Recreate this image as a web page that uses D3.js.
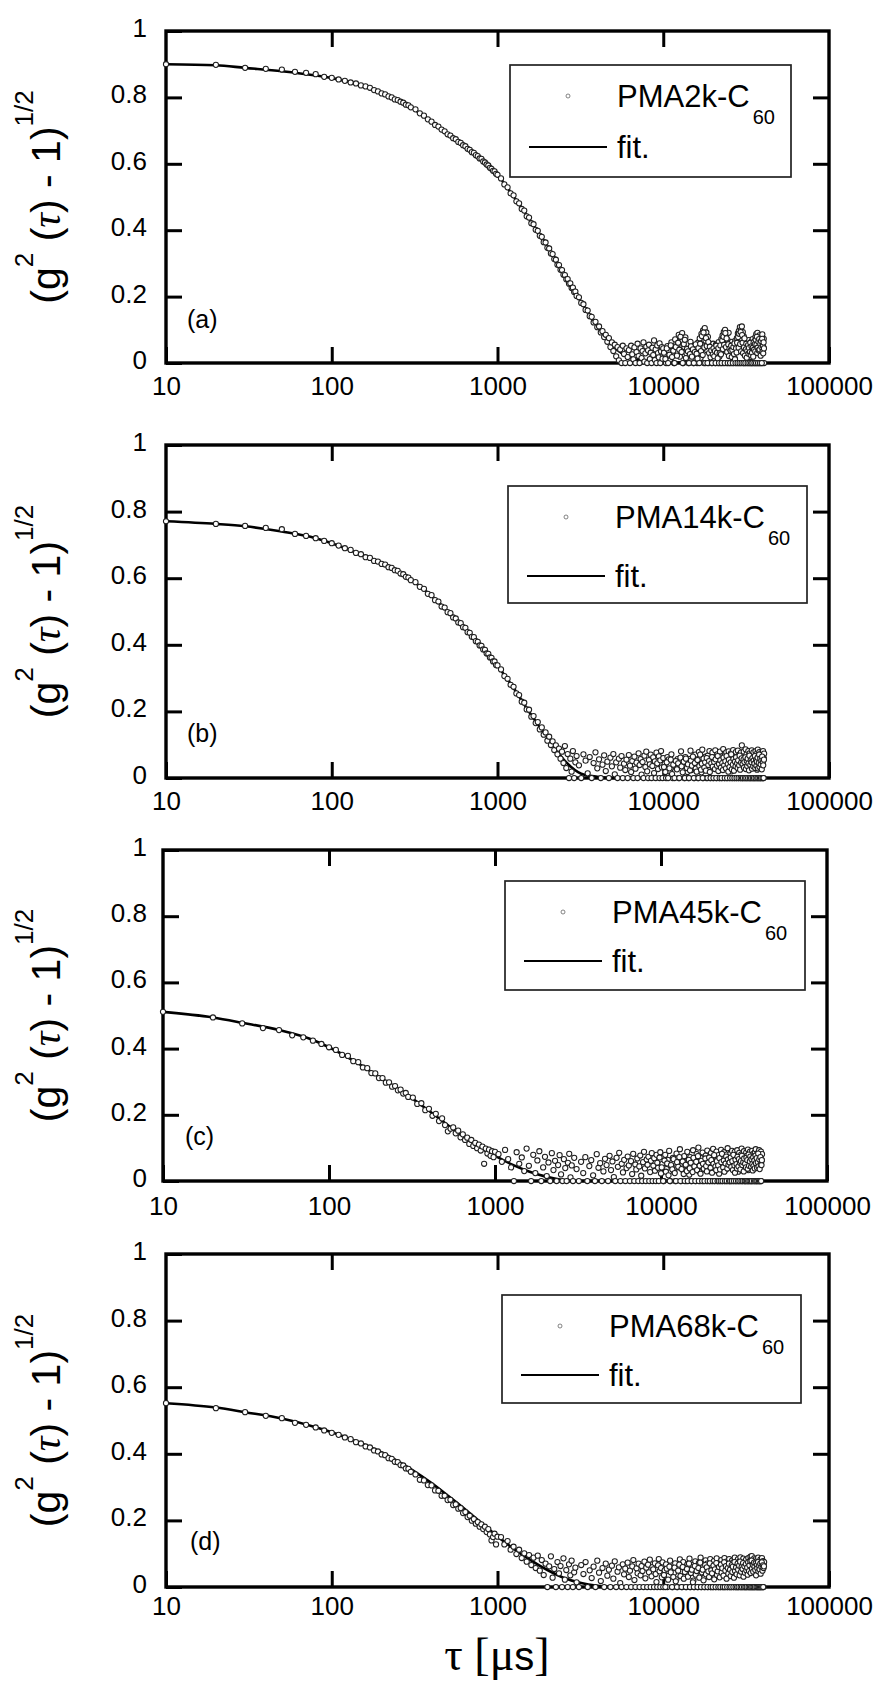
<!DOCTYPE html>
<html>
<head>
<meta charset="utf-8">
<script src="https://cdn.jsdelivr.net/npm/d3@7/dist/d3.min.js"></script>
<style>
body { margin: 0; background: #fff; }
svg { display: block; }
</style>
</head>
<body>
<div id="vue"></div>
<script>
// lag times of the correlator channels (µs)
var lagTimes = [10,20,30,40,50,60,70,80,90,100,
  110,120,130,140,150,160,170,180,190,200,210,220,230,240,250,260,270,280,290,300,
  320,340,360,380,400,420,440,460,480,500,520,540,560,580,600,620,640,660,680,700,
  720,740,760,780,800,820,840,860,880,900,920,940,960,980,1000,
  1050,1100,1150,1200,1250,1300,1350,1400,1450,1500,1550,1600,1650,1700,1750,1800,1850,1900,1950,2000,
  2050,2100,2150,2200,2250,2300,2350,2400,2450,2500,2550,2600,2650,2700,2750,2800,2850,2900,2950,3000,
  3100,3200,3300,3400,3500,3600,3700,3800,3900,4000,
  4100,4200,4300,4400,4500,4600,4700,4800,4900,5000,
  5100,5200,5300,5400,5500,5600,5700,5800,5900,6000,
  6100,6200,6300,6400,6500,6600,6700,6800,6900,7000,
  7100,7200,7300,7400,7500,7600,7700,7800,7900,8000,
  8100,8200,8300,8400,8500,8600,8700,8800,8900,9000,
  9100,9200,9300,9400,9500,9600,9700,9800,9900,10000,
  10200,10400,10600,10800,11000,11200,11400,11600,11800,12000,
  12200,12400,12600,12800,13000,13200,13400,13600,13800,14000,
  14200,14400,14600,14800,15000,15200,15400,15600,15800,16000,
  16200,16400,16600,16800,17000,17200,17400,17600,17800,18000,
  18200,18400,18600,18800,19000,19200,19400,19600,19800,20000,
  20200,20400,20600,20800,21000,21200,21400,21600,21800,22000,
  22200,22400,22600,22800,23000,23200,23400,23600,23800,24000,
  24200,24400,24600,24800,25000,25200,25400,25600,25800,26000,
  26200,26400,26600,26800,27000,27200,27400,27600,27800,28000,
  28200,28400,28600,28800,29000,29200,29400,29600,29800,30000,
  30200,30400,30600,30800,31000,31200,31400,31600,31800,32000,
  32200,32400,32600,32800,33000,33200,33400,33600,33800,34000,
  34200,34400,34600,34800,35000,35200,35400,35600,35800,36000,
  36200,36400,36600,36800,37000,37200,37400,37600,37800,38000,
  38200,38400,38600,38800,39000,39200,39400,39600,39800,40000,
  40200,40400,40600];

// the in-between channels of the long-lag tail (µs)
var lagTimes2 = [10100,10300,10500,10700,10900,11100,11300,11500,11700,11900,
  12100,12300,12500,12700,12900,13100,13300,13500,13700,13900,
  14100,14300,14500,14700,14900,15100,15300,15500,15700,15900,
  16100,16300,16500,16700,16900,17100,17300,17500,17700,17900,
  18100,18300,18500,18700,18900,19100,19300,19500,19700,19900,
  20100,20300,20500,20700,20900,21100,21300,21500,21700,21900,
  22100,22300,22500,22700,22900,23100,23300,23500,23700,23900,
  24100,24300,24500,24700,24900,25100,25300,25500,25700,25900,
  26100,26300,26500,26700,26900,27100,27300,27500,27700,27900,
  28100,28300,28500,28700,28900,29100,29300,29500,29700,29900,
  30100,30300,30500,30700,30900,31100,31300,31500,31700,31900,
  32100,32300,32500,32700,32900,33100,33300,33500,33700,33900,
  34100,34300,34500,34700,34900,35100,35300,35500,35700,35900,
  36100,36300,36500,36700,36900,37100,37300,37500,37700,37900,
  38100,38300,38500,38700,38900,39100,39300,39500,39700,39900,
  40100,40300,40500];

// (g2(t)-1)^1/2 x 1000, one value per lag time
var gA = [900,898,889,886,884,877,874,870,862,859,
  854,850,845,842,836,833,829,822,818,812,809,803,800,794,792,787,784,778,776,770,
  764,752,745,734,727,717,712,703,698,689,685,677,674,666,663,656,653,645,642,635,
  633,626,623,616,615,607,604,598,595,588,585,579,577,570,567,
  556,538,529,511,505,487,481,464,459,442,438,421,418,401,398,383,380,364,363,347,
  345,330,328,313,311,296,295,281,280,266,265,252,253,239,240,226,227,214,215,202,
  198,181,177,160,158,141,139,122,124,108,
  110,92,96,78,85,64,75,48,62,36,
  55,20,48,8,41,0,52,27,0,44,
  18,39,0,52,26,11,47,0,33,58,
  21,0,44,15,36,62,4,29,49,0,
  38,55,12,31,0,46,24,68,9,41,
  0,53,30,17,59,0,35,48,13,44,
  27,0,51,36,8,62,40,0,71,33,
  54,85,19,66,90,0,48,77,29,58,
  0,43,64,12,37,0,52,24,46,0,
  61,31,74,15,88,53,98,0,105,67,
  92,38,79,0,57,26,45,0,34,58,
  9,41,0,55,28,47,0,63,19,39,
  0,72,50,83,0,94,61,100,36,87,
  0,70,44,91,0,58,31,49,0,64,
  22,42,0,55,14,67,38,0,75,52,
  89,0,97,64,108,0,99,71,110,43,
  93,0,80,56,0,68,33,51,0,62,
  25,46,0,69,37,58,0,49,18,64,
  0,41,72,27,0,55,34,66,0,79,
  48,87,0,62,91,36,0,74,52,83,
  0,68,29,77,0,59,40,86,0,65,
  47,73,0];
var gA2 = [31,12,44,0,25,53,18,37,0,48,
  22,61,40,79,33,0,57,70,15,42,
  35,0,27,50,19,41,0,33,56,28,
  13,45,0,58,36,81,24,92,47,0,
  75,51,0,63,30,49,17,38,0,26,
  44,20,36,0,52,31,14,45,0,29,
  53,26,0,68,42,79,55,0,90,48,
  74,33,0,56,21,43,0,37,52,18,
  39,0,48,27,59,11,0,44,32,61,
  0,78,46,88,0,57,93,35,0,84,
  61,30,0,47,74,22,0,41,58,16,
  36,0,54,28,45,0,33,61,24,0,
  50,31,0,46,19,62,40,0,57,35,
  70,0,55,79,30,46,0,64,38,72,
  41,0,57,22,66,48,0,73,34,51,
  29,62,44];

var gB = [771,763,757,751,747,733,727,720,712,705,
  698,690,685,676,672,663,661,652,650,643,641,633,631,624,622,614,612,604,602,594,
  588,574,568,553,549,534,530,515,512,498,495,482,479,467,465,453,451,438,436,424,
  423,411,409,398,397,386,385,374,373,362,361,350,350,339,338,
  326,306,298,280,274,254,249,229,226,206,205,184,186,165,168,146,152,130,137,112,
  124,99,110,84,98,71,88,58,79,45,96,30,72,0,58,19,81,0,47,66,
  38,0,71,52,14,63,0,45,77,29,
  56,0,40,68,21,49,0,61,35,72,
  11,47,0,58,31,66,0,43,24,55,
  0,69,37,18,51,0,64,28,46,0,
  74,39,57,10,48,0,67,33,79,20,
  0,54,41,70,0,36,62,15,50,0,
  76,44,27,65,0,53,81,32,0,60,
  42,0,63,56,19,71,0,47,34,28,
  57,0,52,80,36,41,0,63,45,18,
  0,57,82,24,51,39,0,70,38,53,
  0,78,44,62,17,85,0,46,33,64,
  0,49,67,30,81,0,52,36,76,0,
  60,29,83,45,0,71,26,57,0,79,
  38,64,0,50,87,35,0,69,42,77,
  0,55,31,80,0,63,47,74,20,0,
  59,84,34,0,68,48,78,0,33,61,
  82,0,52,70,37,0,76,56,98,0,
  65,43,79,0,58,30,86,0,71,49,
  0,63,81,28,0,74,53,0,68,40,
  83,0,59,34,77,0,64,47,0,80,
  51,72,0,25,66,85,0,57,41,78,
  0,62,49,0,75,36,69,0,54,81,
  0,60,73];
var gB2 = [33,18,47,0,29,55,12,40,0,51,
  26,44,0,61,35,17,49,0,58,30,
  41,0,23,52,37,64,0,45,28,19,
  54,0,36,70,25,43,0,58,31,47,
  22,60,0,39,51,18,0,44,63,34,
  0,48,27,56,0,37,66,21,42,0,
  53,31,0,45,24,61,38,0,50,29,
  66,0,42,19,55,33,0,47,71,26,
  0,40,57,22,0,49,35,62,0,44,
  30,53,0,38,67,25,0,46,59,0,
  42,0,55,31,48,0,62,27,0,51,
  36,58,0,44,23,67,0,39,53,0,
  47,28,60,0,35,52,0,43,66,30,
  0,54,37,49,0,61,29,0,45,70,
  33,0,58,41,0,52,26,64,0,47,
  38,0,55];

var gC = [511,494,476,462,456,440,434,424,414,404,
  396,381,378,362,359,343,341,326,325,311,311,297,298,285,287,274,276,264,266,254,
  252,233,235,214,218,197,203,181,189,169,150,158,162,144,152,132,141,124,131,112,
  124,106,115,99,110,92,104,52,98,83,95,76,90,72,88,
  81,58,94,66,41,0,87,52,71,30,98,46,0,79,24,62,90,0,41,73,
  15,56,0,84,33,61,0,48,78,20,0,66,39,0,55,82,11,47,0,70,
  36,0,58,24,72,0,45,63,17,0,
  81,40,54,0,29,67,48,0,76,33,
  59,12,0,70,43,85,0,52,26,64,
  0,39,74,47,0,60,21,82,0,50,
  35,68,0,44,77,16,0,57,88,38,
  0,65,49,73,0,27,61,84,0,46,
  69,31,0,79,55,40,0,71,87,23,
  52,0,79,36,64,91,0,45,70,27,
  0,83,58,41,96,0,67,32,75,50,
  0,88,61,19,72,0,47,93,38,66,
  0,81,55,101,29,0,69,44,86,0,
  60,35,77,0,92,53,68,0,40,84,
  0,63,97,31,0,74,49,89,0,57,
  78,22,0,66,94,43,0,71,56,87,
  0,61,35,80,0,99,52,68,0,45,
  83,0,64,91,37,0,73,58,88,0,
  50,76,0,93,62,28,0,85,69,47,
  0,80,98,39,0,67,54,90,0,72,
  44,0,86,61,77,0,95,33,0,70,
  57,89,0,46,74,0,91,63,0,82,
  38,69,0,87,52,96,0,75,60,0,
  84,43,70,0,93,58,0,78,66,89,
  0,62,81];
var gC2 = [41,0,62,28,53,17,0,48,35,66,
  24,0,57,43,72,0,36,59,21,0,
  49,30,0,64,38,55,0,27,70,44,
  0,58,33,75,0,46,22,61,0,52,
  37,0,68,45,29,0,56,71,0,40,
  63,25,0,52,78,0,44,33,60,0,
  47,0,69,35,0,57,82,0,41,62,
  28,0,53,74,0,38,65,49,0,56,
  0,71,42,0,60,33,79,0,47,25,
  64,0,51,38,73,0,44,66,0,55,
  35,60,0,76,48,0,57,29,68,0,
  52,0,41,70,0,63,37,0,80,46,
  0,59,74,0,43,66,0,51,32,71,
  45,0,62,38,0,77,54,0,69,40,
  0,57,83,44,0,65,36,0,72,50,
  0,48,63];

var gD = [552,537,525,514,507,493,487,479,470,463,
  457,449,444,435,431,422,419,410,407,398,396,387,385,376,375,366,365,356,355,346,
  338,322,320,306,305,290,289,274,274,261,262,246,248,235,237,222,225,210,214,199,
  204,190,195,181,188,174,181,165,174,158,140,150,160,128,151,
  150,128,138,112,121,99,112,87,101,76,96,66,88,57,94,49,81,36,70,0,
  62,92,28,54,0,75,41,63,0,86,22,51,0,68,35,79,0,44,58,14,
  0,66,39,75,0,50,27,61,0,79,
  43,18,57,0,70,34,52,0,64,25,
  77,0,46,59,12,0,68,38,55,0,
  73,30,49,0,62,81,21,0,56,41,
  70,0,35,63,48,0,76,26,58,0,
  67,44,82,0,32,60,53,0,71,39,
  15,0,65,84,47,0,57,29,74,0,
  50,68,0,34,79,57,0,42,71,23,
  0,62,83,46,0,75,31,58,0,69,
  40,85,0,53,66,19,0,77,48,61,
  0,72,36,88,0,55,64,27,0,80,
  47,70,0,59,38,84,0,63,51,0,
  78,29,66,0,86,45,58,0,73,37,
  0,81,54,69,0,43,87,0,61,76,
  32,0,70,52,84,0,65,41,0,79,
  56,74,0,35,88,60,0,71,49,0,
  83,64,0,77,44,89,0,58,72,0,
  66,85,39,0,75,54,0,82,63,0,
  70,48,87,0,60,78,0,91,53,0,
  93,67,0,80,57,0,86,74,0,62,
  84,45,0,79,68,0,88,59,0,76,
  65,0,83,51,0,72,87,0,61,78,
  0,69,75];
var gD2 = [36,0,55,22,61,44,0,30,58,17,
  0,49,67,33,0,60,25,45,0,54,
  31,70,0,42,52,14,0,63,37,48,
  0,57,28,73,0,44,52,20,0,66,
  38,59,0,47,30,71,0,50,41,0,
  64,23,53,0,72,36,47,0,60,29,
  0,67,43,56,0,34,74,0,49,63,
  25,0,57,40,70,0,52,33,0,66,
  45,61,0,28,75,48,0,59,38,0,
  70,52,0,64,35,76,0,46,60,0,
  54,72,31,0,62,43,0,69,50,0,
  58,37,74,0,48,65,0,77,42,0,
  79,55,0,67,46,0,73,61,0,51,
  71,35,0,66,56,0,75,47,0,63,
  53,0,70,40,0,60,74,0,49,65,
  0,57,62];

// fit curves, x 1000
var fitTau = [10,20,30,50,80,100,150,200,250,300,400,500,600,800,1000,1250,1600,2000,2500,3200,4000,5000,6300,8000,10000,40000];
var fitA = [900,897,889,879,866,858,837,813,792,771,726,690,662,614,567,502,425,352,270,184,112,50,16,5,1,0];
var fitB = [771,763,756,740,720,705,671,645,621,596,547,501,463,395,337,270,189,121,56,13,4,0,0,0,0,0];
var fitC = [511,494,478,456,426,404,355,315,284,258,212,175,145,102,76,51,29,14,4,0,0,0,0,0,0,0];
var fitD = [552,539,525,506,480,465,432,404,378,354,312,275,244,192,152,115,79,51,28,12,4,0,0,0,0,0];

var seriesNames = ["PMA2k-C", "PMA14k-C", "PMA45k-C", "PMA68k-C"];
var panelTags = ["(a)", "(b)", "(c)", "(d)"];
var xTicks = [10, 100, 1000, 10000, 100000];
var xTickLabels = ["10", "100", "1000", "10000", "100000"];
var yTicks = [0, 0.2, 0.4, 0.6, 0.8, 1];
var yTickLabels = ["0", "0.2", "0.4", "0.6", "0.8", "1"];

var series = [gA, gB, gC, gD];
var series2 = [gA2, gB2, gC2, gD2];
var fits = [fitA, fitB, fitC, fitD];

// placement of each panel on the page
var panels = [
  {left:166, right:829, top:31,   bottom:363,  leg:[510,65,791,177],   fitDy:93,  tagX:187, tagY:328,  xPad:32},
  {left:166, right:829, top:445,  bottom:778,  leg:[508,486,807,603],  fitDy:101, tagX:187, tagY:742,  xPad:32},
  {left:163, right:827, top:850,  bottom:1181, leg:[505,881,805,990],  fitDy:91,  tagX:185, tagY:1145, xPad:34},
  {left:166, right:829, top:1254, bottom:1587, leg:[502,1295,801,1403], fitDy:91,  tagX:190, tagY:1550, xPad:28}
];

var sans = "'Liberation Sans', Arial, sans-serif";
var serif = "'Liberation Serif', 'Times New Roman', serif";

var svg = d3.select("#vue").append("svg")
  .attr("width", 880)
  .attr("height", 1688);

svg.append("rect").attr("width", 880).attr("height", 1688).attr("fill", "#fff");

function styleAxis(g) {
  g.select(".domain").remove();
  g.attr("font-family", sans).attr("font-size", 26);
  g.selectAll(".tick line").attr("stroke", "#000").attr("stroke-width", 3);
  g.selectAll(".tick text").attr("fill", "#000");
}

function drawPanel(p, k) {
  var x = d3.scaleLog().domain([10, 100000]).range([p.left, p.right]);
  var y = d3.scaleLinear().domain([0, 1]).range([p.bottom, p.top]);
  var g = svg.append("g");

  // axes, ticks pointing inward on all four sides
  g.append("g")
    .attr("transform", "translate(0," + p.bottom + ")")
    .call(d3.axisBottom(x).tickValues(xTicks)
      .tickFormat(function (d) { return xTickLabels[xTicks.indexOf(d)]; })
      .tickSizeInner(-16).tickSizeOuter(0).tickPadding(p.xPad - 18.5))
    .call(styleAxis);
  g.append("g")
    .attr("transform", "translate(0," + p.top + ")")
    .call(d3.axisTop(x).tickValues(xTicks.slice(1, 4)).tickFormat("")
      .tickSizeInner(-16).tickSizeOuter(0))
    .call(styleAxis);
  g.append("g")
    .attr("transform", "translate(" + p.left + ",0)")
    .call(d3.axisLeft(y).tickValues(yTicks)
      .tickFormat(function (d) { return yTickLabels[yTicks.indexOf(d)]; })
      .tickSizeInner(-16).tickSizeOuter(0).tickPadding(p.left - 147))
    .call(styleAxis)
    .selectAll(".tick text").attr("dy", "0.21em");
  g.append("g")
    .attr("transform", "translate(" + p.right + ",0)")
    .call(d3.axisRight(y).tickValues(yTicks.slice(1, 5)).tickFormat("")
      .tickSizeInner(-16).tickSizeOuter(0))
    .call(styleAxis);

  g.append("rect")
    .attr("x", p.left).attr("y", p.top)
    .attr("width", p.right - p.left).attr("height", p.bottom - p.top)
    .attr("fill", "none").attr("stroke", "#000").attr("stroke-width", 3.4);

  // fit line
  var fitPts = fitTau.map(function (t, i) { return [t, fits[k][i] / 1000]; });
  var line = d3.line()
    .x(function (d) { return x(d[0]); })
    .y(function (d) { return y(d[1]); })
    .curve(d3.curveMonotoneX);
  g.append("path").datum(fitPts)
    .attr("d", line)
    .attr("fill", "none").attr("stroke", "#000").attr("stroke-width", 2.6);

  // measured points
  var pts = lagTimes.map(function (t, i) { return [t, series[k][i] / 1000]; })
    .concat(lagTimes2.map(function (t, i) { return [t, series2[k][i] / 1000]; }));
  g.append("g").selectAll("circle")
    .data(pts)
    .join("circle")
    .attr("cx", function (d) { return x(d[0]); })
    .attr("cy", function (d) { return y(d[1]); })
    .attr("r", 2.6)
    .attr("fill", "#fff")
    .attr("stroke", "#1e1e1e")
    .attr("stroke-width", 1.05);

  // legend
  var L = p.leg;
  var lg = g.append("g");
  lg.append("rect")
    .attr("x", L[0]).attr("y", L[1])
    .attr("width", L[2] - L[0]).attr("height", L[3] - L[1])
    .attr("fill", "#fff").attr("stroke", "#222").attr("stroke-width", 1.7);
  lg.append("circle")
    .attr("cx", L[0] + 58).attr("cy", L[1] + 31).attr("r", 2)
    .attr("fill", "#fff").attr("stroke", "#666").attr("stroke-width", 0.8);
  var t1 = lg.append("text")
    .attr("x", L[0] + 107).attr("y", L[1] + 42)
    .attr("font-family", sans).attr("font-size", 31);
  t1.append("tspan").text(seriesNames[k]);
  t1.append("tspan").attr("font-size", 20).attr("dx", 3).attr("dy", 17).text("60");
  lg.append("line")
    .attr("x1", L[0] + 19).attr("x2", L[0] + 97)
    .attr("y1", L[1] + p.fitDy - 11).attr("y2", L[1] + p.fitDy - 11)
    .attr("stroke", "#000").attr("stroke-width", 1.8);
  lg.append("text")
    .attr("x", L[0] + 107).attr("y", L[1] + p.fitDy)
    .attr("font-family", sans).attr("font-size", 31)
    .text("fit.");

  // panel tag
  g.append("text")
    .attr("x", p.tagX).attr("y", p.tagY)
    .attr("font-family", sans).attr("font-size", 25)
    .text(panelTags[k]);

  // y title
  var cy = (p.top + p.bottom) / 2;
  var yt = g.append("text")
    .attr("transform", "translate(60," + cy + ") rotate(-90)")
    .attr("text-anchor", "middle")
    .attr("font-family", sans).attr("font-size", 41);
  yt.append("tspan").text("(g");
  yt.append("tspan").attr("font-size", 26).attr("dy", -27).text("2");
  yt.append("tspan").attr("dy", 27).text("\u00a0(");
  yt.append("tspan").attr("font-family", serif).attr("font-style", "italic").text("\u03c4");
  yt.append("tspan").text(") - 1)");
  yt.append("tspan").attr("font-size", 26).attr("dy", -27).text("1/2");
}

panels.forEach(drawPanel);

// x title
var xt = svg.append("text")
  .attr("x", 497).attr("y", 1670)
  .attr("text-anchor", "middle")
  .attr("font-family", serif).attr("font-size", 46);
xt.append("tspan").text("\u03c4 [\u03bc");
xt.append("tspan").attr("font-family", sans).attr("font-size", 40).text("s");
xt.append("tspan").text("]");
</script>
</body>
</html>
